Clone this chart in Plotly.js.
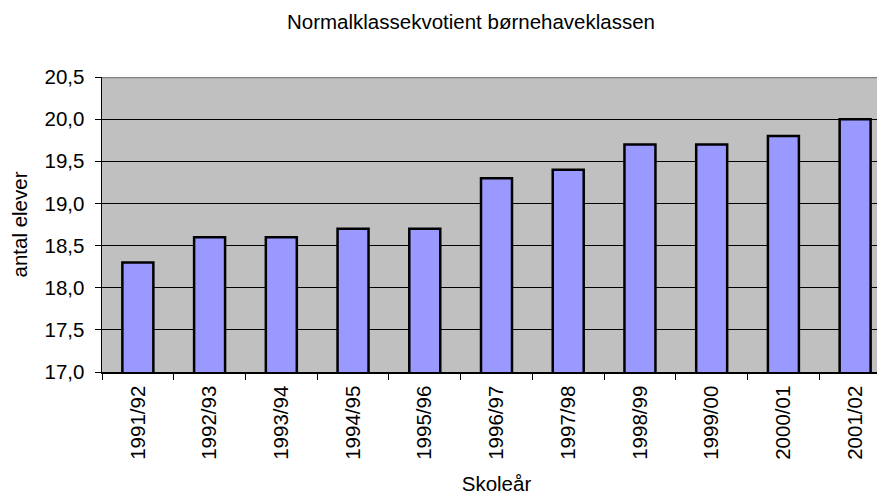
<!DOCTYPE html>
<html>
<head>
<meta charset="utf-8">
<script src="https://cdn.plot.ly/plotly-3.0.1.min.js"></script>
<style>
html,body{margin:0;padding:0;overflow:hidden;background:#fff;}
#chart{width:900px;height:497px;}
</style>
</head>
<body>
<div id="chart"></div>
<script>
var categories = ["1991/92","1992/93","1993/94","1994/95","1995/96","1996/97","1997/98","1998/99","1999/00","2000/01","2001/02"];
var values = [18.3, 18.6, 18.6, 18.7, 18.7, 19.3, 19.4, 19.7, 19.7, 19.8, 20.0];
var yTicks = [17.0, 17.5, 18.0, 18.5, 19.0, 19.5, 20.0, 20.5];

var FONT = "Liberation Sans, Arial, sans-serif";
var FS = 20.5;

var trace = {
  type: "bar",
  x: categories,
  y: values,
  width: 0.432,
  marker: {color: "#9999FF", line: {color: "#000000", width: 2.5}},
  hoverinfo: "x+y"
};

var layout = {
  width: 900,
  height: 497,
  margin: {l: 101.6, r: 9.3, t: 77, b: 124.7},
  paper_bgcolor: "#ffffff",
  plot_bgcolor: "#C0C0C0",
  separators: ",.",
  showlegend: false,
  font: {family: FONT, color: "#000000", size: FS},
  title: {
    text: "Normalklassekvotient børnehaveklassen",
    font: {family: FONT, size: FS, color: "#000"},
    xref: "container", yref: "container",
    x: 471 / 900, xanchor: "center",
    y: 1 - 22 / 497, yanchor: "middle"
  },
  xaxis: {
    type: "category",
    tickson: "boundaries",
    ticks: "outside",
    ticklen: 6,
    tickcolor: "#000",
    tickangle: -90,
    ticklabelstandoff: 4,
    showline: true,
    linecolor: "#000",
    linewidth: 1.5,
    showgrid: false,
    tickfont: {family: FONT, size: FS},
    title: {text: "Skoleår", font: {family: FONT, size: FS}, standoff: 18},
    automargin: false
  },
  yaxis: {
    range: [17, 20.5],
    tickvals: yTicks,
    tickformat: ".1f",
    ticks: "outside",
    ticklen: 6,
    tickcolor: "#000",
    ticklabelstandoff: 6,
    showline: true,
    linecolor: "#000",
    linewidth: 1.5,
    showgrid: true,
    gridcolor: "#000",
    gridwidth: 1,
    zeroline: false,
    tickfont: {family: FONT, size: FS},
    title: {text: "antal elever", font: {family: FONT, size: FS}, standoff: 11},
    automargin: false
  },
  shapes: [
    {type: "line", xref: "paper", yref: "y", x0: 0, x1: 1, y0: 20.5, y1: 20.5, line: {color: "#808080", width: 2.5}}
  ]
};

Plotly.newPlot("chart", [trace], layout, {displayModeBar: false, staticPlot: true});
</script>
</body>
</html>
